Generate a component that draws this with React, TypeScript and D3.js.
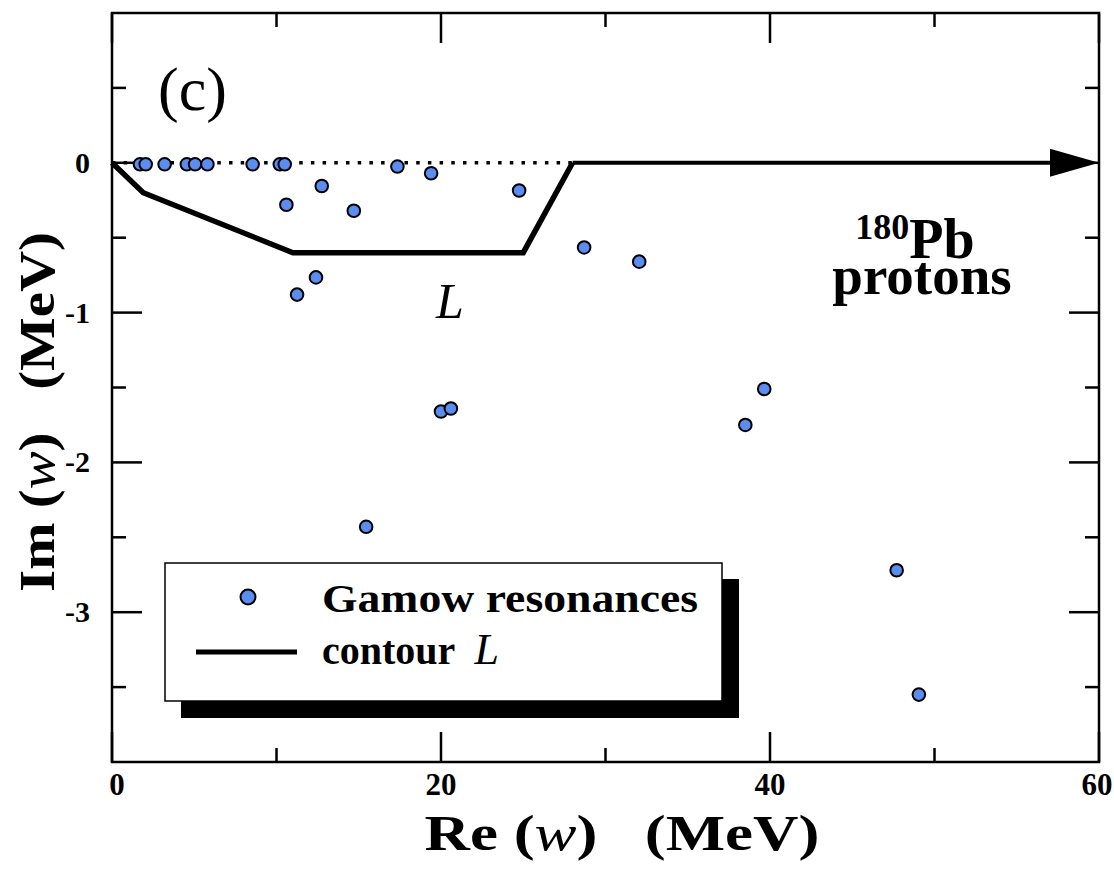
import React from "react";
import * as d3 from "d3";

const gamowRe = [1.7, 2.05, 3.2, 4.55, 5.05, 5.8, 8.55, 10.2, 10.5, 17.35, 19.4, 12.75, 10.6, 14.7, 24.75, 28.7, 12.4, 11.25, 32.05, 20.0, 20.6, 15.45, 38.5, 39.65, 47.7, 49.05];
const gamowIm = [-0.01, -0.01, -0.01, -0.01, -0.01, -0.01, -0.01, -0.01, -0.01, -0.025, -0.07, -0.155, -0.28, -0.32, -0.185, -0.565, -0.765, -0.88, -0.66, -1.66, -1.64, -2.43, -1.75, -1.51, -2.72, -3.55];

const contourRe = [0, 1.9, 11, 25, 28];
const contourIm = [0, -0.2, -0.6, -0.6, 0];
const arrowRe = [28, 60];
const dottedRe = [0, 28];

const xMajor = [0, 20, 40, 60];
const xMinor = [10, 30, 50];
const yMajor = [-3, -2, -1, 0];
const yMinor = [-3.5, -2.5, -1.5, -0.5, 0.5];
const xTickLabels = ["0", "20", "40", "60"];
const yTickLabels = ["-3", "-2", "-1", "0"];

const W = 1114, H = 888;
const L = 112, R = 1099, T = 13, B = 762;

export default function App() {
  const x = d3.scaleLinear().domain([0, 60]).range([L, R]);
  const y = d3.scaleLinear().domain([-4, 1]).range([B, T]);
  const line = d3.line<number>().x((_, i) => x(contourRe[i])).y((_, i) => y(contourIm[i]));
  const serif = "'Liberation Serif', 'Times New Roman', serif";
  const fill = "#5b8cf0";
  const ax = x(60), ay = y(0);
  return (
    <svg width={W} height={H} style={{ position: "absolute", left: 0, top: 0, background: "#fff" }} fontFamily={serif}>
      {/* dotted real axis */}
      <line x1={x(dottedRe[0])} x2={x(dottedRe[1])} y1={y(0)} y2={y(0)} stroke="#000" strokeWidth={3.5} strokeDasharray="3.5,8.2" />
      {/* contour */}
      <path d={line(contourRe) || ""} fill="none" stroke="#000" strokeWidth={5.5} strokeLinejoin="miter" />
      <line x1={x(arrowRe[0])} x2={x(arrowRe[1]) - 40} y1={y(0)} y2={y(0)} stroke="#000" strokeWidth={4} />
      <path d={`M${ax},${ay} L${ax - 49},${ay - 14} L${ax - 49},${ay + 14} Z`} fill="#000" />
      {/* frame */}
      <rect x={L} y={T} width={R - L} height={B - T} fill="none" stroke="#000" strokeWidth={2.5} />
      {/* ticks */}
      {xMajor.map((v) => (
        <g key={"xm" + v}>
          <line x1={x(v)} x2={x(v)} y1={B} y2={B - 30} stroke="#000" strokeWidth={2.5} />
          <line x1={x(v)} x2={x(v)} y1={T} y2={T + 30} stroke="#000" strokeWidth={2.5} />
        </g>
      ))}
      {xMinor.map((v) => (
        <g key={"xn" + v}>
          <line x1={x(v)} x2={x(v)} y1={B} y2={B - 14} stroke="#000" strokeWidth={2.5} />
          <line x1={x(v)} x2={x(v)} y1={T} y2={T + 14} stroke="#000" strokeWidth={2.5} />
        </g>
      ))}
      {yMajor.map((v) => (
        <g key={"ym" + v}>
          <line x1={L} x2={L + 30} y1={y(v)} y2={y(v)} stroke="#000" strokeWidth={2.5} />
          <line x1={R} x2={R - 30} y1={y(v)} y2={y(v)} stroke="#000" strokeWidth={2.5} />
        </g>
      ))}
      {yMinor.map((v) => (
        <g key={"yn" + v}>
          <line x1={L} x2={L + 14} y1={y(v)} y2={y(v)} stroke="#000" strokeWidth={2.5} />
          <line x1={R} x2={R - 14} y1={y(v)} y2={y(v)} stroke="#000" strokeWidth={2.5} />
        </g>
      ))}
      {/* tick labels */}
      {xMajor.map((v, i) => (
        <text key={"xl" + v} x={i === 0 ? x(v) + 5 : x(v) - (i === 3 ? 2 : 0)} y={795} textAnchor="middle" fontSize={31} fontWeight="bold">{xTickLabels[i]}</text>
      ))}
      {yMajor.map((v, i) => (
        <text key={"yl" + v} x={90} y={y(v) + 10} textAnchor="end" fontSize={30} fontWeight="bold">{yTickLabels[i]}</text>
      ))}
      {/* axis titles */}
      <text x={622} y={850} textAnchor="middle" fontSize={50} fontWeight="bold" xmlSpace="preserve" textLength={395} lengthAdjust="spacingAndGlyphs">
        Re (<tspan fontStyle="italic" fontWeight="normal">w</tspan>)   (MeV)
      </text>
      <text transform={`translate(54,412) rotate(-90)`} textAnchor="middle" fontSize={50} fontWeight="bold" xmlSpace="preserve" textLength={360} lengthAdjust="spacingAndGlyphs">
        Im (<tspan fontStyle="italic" fontWeight="normal">w</tspan>)   (MeV)
      </text>
      {/* annotations */}
      <text x={158} y={110} fontSize={62}>(c)</text>
      <text x={436} y={318} fontSize={50} fontStyle="italic">L</text>
      <text x={915} y={258} textAnchor="middle" fontSize={56} fontWeight="bold">
        <tspan fontSize={36} dy={-19}>180</tspan><tspan dy={19}>Pb</tspan>
      </text>
      <text x={922} y={294} textAnchor="middle" fontSize={55} fontWeight="bold">protons</text>
      {/* points */}
      {gamowRe.map((v, i) => (
        <circle key={"p" + i} cx={x(v)} cy={y(gamowIm[i])} r={6.3} fill={fill} stroke="#000" strokeWidth={2} />
      ))}
      {/* legend */}
      <rect x={181} y={579} width={558} height={139} fill="#000" />
      <rect x={165} y={563} width={557} height={138} fill="#fff" stroke="#000" strokeWidth={1.5} />
      <circle cx={248} cy={597} r={7.5} fill={fill} stroke="#000" strokeWidth={2} />
      <line x1={196} x2={297} y1={652} y2={652} stroke="#000" strokeWidth={5} />
      <text x={322} y={612} fontSize={40} fontWeight="bold" textLength={376} lengthAdjust="spacingAndGlyphs">Gamow resonances</text>
      <text x={322} y={664} fontSize={40} fontWeight="bold" xmlSpace="preserve">contour  <tspan fontStyle="italic" fontWeight="normal" fontSize={44}>L</tspan></text>
    </svg>
  );
}
